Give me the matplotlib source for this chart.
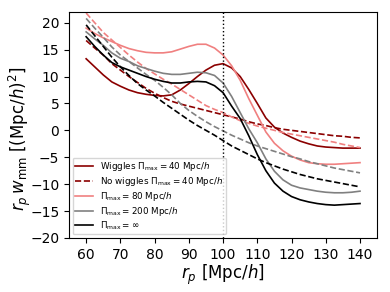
import numpy as np
import matplotlib
matplotlib.use('Agg')
import matplotlib.pyplot as plt

# r_p grid (Mpc/h)
rp = np.arange(60, 140.1, 2.5)

# wiggles, Pi_max = 40
w40 = [13.3, 11.8, 10.3, 9.0, 8.2, 7.5, 7.0, 6.7, 6.5, 6.4, 6.6, 7.5, 8.7,
       10.0, 11.2, 12.1, 12.4, 11.6, 10.0, 7.6, 5.0, 2.3, 0.6, -0.5, -1.3,
       -2.0, -2.5, -2.9, -3.1, -3.2, -3.3, -3.3, -3.3]
# no wiggles, Pi_max = 40
nw40 = [16.7, 15.3, 14.0, 12.4, 11.2, 10.0, 8.9, 7.8, 6.9, 6.1, 5.4, 4.9, 4.5,
        4.1, 3.7, 3.3, 2.9, 2.5, 2.1, 1.6, 1.2, 0.9, 0.5, 0.2, 0.0,
        -0.2, -0.4, -0.6, -0.8, -1.0, -1.1, -1.3, -1.4]
# Pi_max = 80
w80 = [19.0, 18.0, 17.2, 16.5, 15.8, 15.2, 14.8, 14.5, 14.4, 14.4, 14.6, 15.1, 15.6,
       16.0, 16.0, 15.3, 14.0, 12.0, 9.3, 5.9, 2.8, -0.3, -2.4, -3.8, -4.8,
       -5.5, -6.0, -6.2, -6.3, -6.3, -6.2, -6.1, -6.0]
nw80 = [21.8, 20.0, 18.2, 16.8, 15.4, 14.0, 12.7, 11.5, 10.5, 9.5, 8.6, 7.6, 6.6,
        5.6, 4.6, 3.9, 3.3, 2.5, 1.8, 1.3, 0.8, 0.4, 0.0, -0.4, -0.7,
        -1.0, -1.3, -1.6, -1.9, -2.2, -2.6, -2.9, -3.2]
# Pi_max = 200
w200 = [18.3, 17.0, 15.8, 14.4, 13.4, 12.8, 12.0, 11.5, 11.0, 10.6, 10.4, 10.4, 10.6,
        10.8, 10.7, 10.2, 8.8, 6.3, 3.3, 0.3, -2.3, -5.3, -7.6, -9.2, -10.2,
        -10.7, -11.0, -11.3, -11.5, -11.6, -11.6, -11.5, -11.3]
nw200 = [20.8, 19.0, 17.3, 15.5, 14.0, 12.8, 11.6, 10.4, 9.3, 8.0, 6.6, 5.0, 3.7,
         2.6, 1.6, 0.7, -0.1, -0.9, -1.6, -2.3, -2.9, -3.4, -3.9, -4.4, -4.9,
         -5.3, -5.8, -6.2, -6.6, -7.0, -7.3, -7.6, -7.9]
# Pi_max = inf
winf = [17.4, 15.6, 14.0, 12.6, 11.8, 11.2, 10.6, 10.0, 9.5, 9.1, 8.8, 8.8, 9.0,
        9.1, 9.0, 8.3, 7.0, 4.5, 2.2, -1.0, -4.5, -7.5, -9.8, -11.3, -12.3,
        -12.9, -13.3, -13.6, -13.8, -13.9, -13.8, -13.7, -13.6]
nwinf = [19.6, 17.6, 15.6, 13.6, 11.8, 10.2, 8.7, 7.5, 6.4, 5.2, 4.1, 3.0, 1.9,
         0.9, 0.0, -0.9, -1.9, -2.9, -3.7, -4.5, -5.3, -6.0, -6.6, -7.2, -7.7,
         -8.2, -8.6, -9.0, -9.3, -9.6, -9.9, -10.2, -10.5]

fig = plt.figure(figsize=(3.9, 2.92), dpi=100)
ax = fig.add_axes([0.177, 0.185, 0.79, 0.774])

lw = 1.2
ax.plot(rp, w40, color='darkred', lw=lw, label=r'Wiggles $\Pi_{\rm max} = 40$ Mpc/$h$')
ax.plot(rp, nw40, color='darkred', lw=lw, ls='--', label=r'No wiggles $\Pi_{\rm max} = 40$ Mpc/$h$')
ax.plot(rp, w80, color='lightcoral', lw=lw, label=r'$\Pi_{\rm max} = 80$ Mpc/$h$')
ax.plot(rp, nw80, color='lightcoral', lw=lw, ls='--')
ax.plot(rp, w200, color='gray', lw=lw, label=r'$\Pi_{\rm max} = 200$ Mpc/$h$')
ax.plot(rp, nw200, color='gray', lw=lw, ls='--')
ax.plot(rp, winf, color='k', lw=lw, label=r'$\Pi_{\rm max} = \infty$')
ax.plot(rp, nwinf, color='k', lw=lw, ls='--')

ax.axvline(100, color='k', ls=':', lw=1)

ax.set_xlim(55, 145)
ax.set_ylim(-20, 22)
ax.set_xticks(np.arange(60, 141, 10))
ax.set_yticks(np.arange(-20, 21, 5))
ax.tick_params(labelsize=10)
ax.set_xlabel(r'$r_p$ [Mpc/$h$]', fontsize=12)
ax.set_ylabel(r'$r_p\,w_{\rm mm}$ [(Mpc/$h$)$^2$]', fontsize=12)
ax.xaxis.set_label_coords(0.5, -0.11)
ax.yaxis.set_label_coords(-0.118, 0.44)
ax.legend(loc='lower left', fontsize=6.3, labelspacing=0.2, borderpad=0.3,
          borderaxespad=0.4)

fig.savefig('out.png', dpi=100)
